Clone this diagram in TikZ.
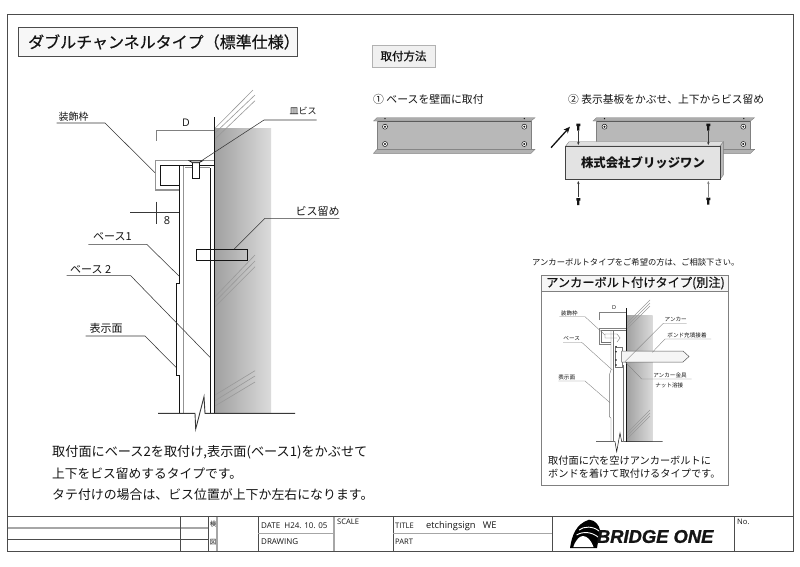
\documentclass[tikz,border=0pt]{standalone}
\usepackage{fontspec}
\setmainfont{Noto Sans CJK JP}
\newfontfamily\latinfont{Open Sans}
\newfontfamily\logofont[FakeBold=1.2]{Liberation Sans}
\newfontfamily\medfont[FakeBold=0.5]{Noto Sans CJK JP}
\usetikzlibrary{arrows.meta}
\definecolor{ink}{gray}{0.08}
\definecolor{frameink}{gray}{0.3}
\definecolor{soft}{gray}{0.65}
\definecolor{plate}{gray}{0.72}
\newcommand{\fs}[1]{\fontsize{#1}{#1}\selectfont}
\tikzset{
  x=1pt,y=-1pt,
  txt/.style={inner sep=0pt,text=ink,anchor=west},
  ctr/.style={inner sep=0pt,text=ink,anchor=center},
  frameline/.style={draw=frameink,line width=0.7pt},
  softline/.style={draw=soft,line width=1.1pt},
  leader/.style={draw=ink!85!white,line width=0.55pt},
  heavy/.style={draw=ink,line width=0.85pt},
  greyheavy/.style={draw=gray!85!white,line width=1.2pt},
  hatchline/.style={draw=gray!80!white,line width=0.6pt},
  wall/.style={left color=gray!75!white,right color=gray!28!white,draw=none},
  thin leader/.style={draw=ink!55!white,line width=0.35pt},
  mini/.style={draw=ink!60!white,line width=0.4pt},
  hole/.style={circle,draw=ink,fill=white,line width=0.5pt,minimum size=5pt,inner sep=0pt},
}
\newcommand{\bolt}[2]{\fill[ink] (#1-2,#2-3.5) rectangle (#1+2,#2-1) (#1-1.1,#2-1) rectangle (#1+1.1,#2+3.5);}
\newcommand{\bracket}[1]{%
  \begin{scope}[shift={(#1,0)}]
    \fill[gray!65!white,draw=gray] (-11.5,121)--(-8,117.7)--(150,117.7)--(146,121)--cycle;
    \fill[plate] (-8,121) rectangle (146,149.3);
    \draw[ink!70!white,line width=0.6pt] (-8,121)--(146,121) (-8,149.3)--(150,149.3);
    \draw[gray,line width=0.4pt] (-8,121)--(-8,149.3) (146,121)--(146,149.3);
    \fill[gray!60!white,draw=gray] (-8,149.3)--(150,149.3)--(146,153.3)--(-11.5,153.3)--cycle;
    \fill[ink] (0,118.6) circle (0.7) (139.3,118.6) circle (0.7);
  \end{scope}}
\begin{document}
\begin{tikzpicture}
\useasboundingbox (0,0) rectangle (800,566);
\fill[white] (0,0) rectangle (800,566);
% outer frame and title block
\draw[frameline] (7.5,14) rectangle (793,551);
\draw[frameline] (7.5,516.5)--(793,516.5);
\draw[frameline] (7.5,539)--(208,539);
\draw[softline] (7.5,528)--(208,528);
\draw[frameline] (180,516.5)--(180,551) (208,516.5)--(208,551) (258,516.5)--(258,551) (393,516.5)--(393,551) (552,516.5)--(552,551) (734,516.5)--(734,551);
\draw[softline] (217,516.5)--(217,551) (334,516.5)--(334,551) (258,533.7)--(334,533.7) (393,533.7)--(552,533.7);
\node[ctr,font=\fs{6.5}] (kenlabel) at (213,524) {検};
\node[ctr,font=\fs{6.5}] (zulabel) at (213,542) {図};
\node[txt,font=\latinfont\fs{8}] (datelabel) at (261,526) {DATE\ \ H24. 10. 05};
\node[txt,font=\latinfont\fs{8}] (drawinglabel) at (261,542) {DRAWING};
\node[txt,font=\latinfont\fs{7.6}] (scalelabel) at (337,522) {SCALE};
\node[txt,font=\latinfont\fs{7.6}] (titlelabel) at (395,526) {TITLE};
\node[txt,font=\latinfont\fs{9.3}] (titletext) at (426,526) {etchingsign\ \ \ WE};
\node[txt,font=\latinfont\fs{7.6}] (partlabel) at (395,542) {PART};
\node[txt,font=\latinfont\fs{7.6}] (nolabel) at (737,522) {No.};
% logo
\fill[black] (570,548) .. controls (572,535) and (576,524) .. (589,519.7) .. controls (595,520) and (599,525) .. (600,530) -- (597,548) -- cycle;
\fill[white] (573.3,547) .. controls (576,539) and (580,536) .. (583,536) .. controls (587,536) and (591,540) .. (593.5,547) -- cycle;
\draw[white,line width=0.9pt] (579,530) .. controls (584,526) and (593,526) .. (599,531);
\draw[white,line width=0.9pt] (576.5,535) .. controls (583,531) and (592,532) .. (598,537);
\node[txt,font=\logofont\bfseries\itshape\fs{18.4}] (logotext) at (596.7,536.5) {BRIDGE ONE};
% heading boxes
\draw[fill=gray!6!white,draw=frameink,line width=0.7pt] (18,27) rectangle (297,56);
\node[txt,font=\medfont\fs{16}] (heading) at (28,42) {ダブルチャンネルタイプ（標準仕様）};
\draw[fill=gray!12!white,draw=gray!60!white,line width=0.7pt] (372,45) rectangle (435,67);
\node[ctr,font=\medfont\fs{11.5}] (methodhead) at (403.5,56) {取付方法};
% main section
\shade[wall] (214,128) rectangle (271,413);
\foreach \a/\b/\c/\d in {215/128.3/253/90,215/133/255/95,215/139/255/100.7,215/296.7/255/255,215/301.7/255/261,215/306.7/255/266.7,215/395/255/370.7,215/400.7/255/376,215/406/255/382}
  \draw[hatchline] (\a,\b)--(\c,\d);
\draw[heavy] (214.3,117)--(214.3,413.3);
\draw[heavy] (210.3,168)--(210.3,413.3);
\draw[greyheavy] (185,167.7)--(210.3,167.7);
\draw[greyheavy] (183.3,166)--(183.3,413.3);
\draw[heavy] (179.3,165.3)--(179.3,276)--(179.3,283)--(176,283)--(176,375)--(179.3,375)--(179.3,413.3);
\draw[greyheavy] (214,160.7)--(155.7,160.7)--(155.7,190)--(179.3,190);
\draw[heavy] (214,165.3)--(160.3,165.3)--(160.3,185.7)--(179.3,185.7);
% countersunk screw
\draw[fill=white,draw=ink,line width=0.6pt] (192.3,162.7) rectangle (199.3,178.3);
\draw[fill=gray!30!white,draw=ink,line width=0.6pt] (189,160.7)--(202.7,160.7)--(199.3,162.7)--(192.3,162.7)--cycle;
% dimensions
\draw[draw=gray,line width=0.9pt] (156.3,140.7)--(156.3,130.7)--(214,130.7);
\node[ctr,font=\latinfont\fs{10.5}] (dlabel) at (186,122.5) {D};
\draw[leader] (156,201.7)--(156,224) (130,212.3)--(179.3,212.3);
\node[ctr,font=\latinfont\fs{11}] (eightlabel) at (167,220.7) {8};
% screw box
\draw[heavy] (196,249.3) rectangle (247.3,260.7);
% main labels and leaders
\node[ctr,font=\fs{10}] (frame) at (73.5,117) {装飾枠};
\draw[leader] (56.7,123)--(105,123)--(155,172.7);
\node[ctr,font=\fs{9}] (dishscrew) at (303,111) {皿ビス};
\draw[leader] (316.7,120)--(264,120)--(200,161.7);
\node[ctr,font=\fs{11}] (screwfix) at (317.5,211) {ビス留め};
\draw[leader] (339.3,218.3)--(265,218.3)--(234,249.3);
\node[ctr,font=\fs{11}] (base1) at (112.5,237) {ベース1};
\draw[leader] (88.3,244.3)--(146.7,244.3)--(179,276);
\node[ctr,font=\fs{11}] (base2) at (90.7,270) {ベース 2};
\draw[leader] (66.7,275.7)--(130.7,275.7)--(210,357.3);
\node[ctr,font=\fs{11}] (face) at (106,328) {表示面};
\draw[leader] (85.7,336)--(145,336)--(176,367.3);
% break line
\draw[draw=ink!85!white,line width=0.9pt] (158,413.3)--(195,413.3)--(195.7,429)--(204,396.7)--(205,413.3)--(295,413.3);
% body text
\node[txt,font=\fs{13.15}] (body1) at (52,452) {取付面にベース2を取付け,表示面(ベース1)をかぶせて};
\node[txt,font=\fs{12.75}] (body2) at (52,474) {上下をビス留めするタイプです。};
\node[txt,font=\fs{12.9}] (body3) at (52,495) {タテ付けの場合は、ビス位置が上下か左右になります。};
% step captions
\node[txt,font=\fs{10.85}] (step1) at (373,99) {① ベースを壁面に取付};
\node[txt,font=\fs{10.75}] (step2) at (568,99) {② 表示基板をかぶせ、上下からビス留め};
% left bracket
\bracket{385}
\foreach \p/\q in {385/126.7,524.3/126.7,385/144,524.3/144}{
  \node[hole] at (\p,\q) {};
  \fill[ink] (\p,\q) circle (1.1);}
% right bracket
\bracket{604.5}
\foreach \p/\q in {604.5/126.7,743.3/126.7,743.3/144}{
  \node[hole] at (\p,\q) {};
  \fill[ink] (\p,\q) circle (1.1);}
% sign
\fill[gray!55!white,draw=gray] (720,146)--(723.3,141.7)--(723.3,175)--(720,179.3)--cycle;
\fill[gray!25!white,draw=gray] (565.7,146)--(569,141.7)--(723.3,141.7)--(720,146)--cycle;
\draw[fill=gray!22!white,draw=ink!80!white,line width=0.6pt] (565.7,146) rectangle (720,179.3);
\node[ctr,font=\fs{12.4}\bfseries] (company) at (643,163) {株式会社ブリッジワン};
% screws and arrows
\bolt{578.3}{127}
\bolt{708.3}{127}
\bolt{578.3}{201.7}
\bolt{708.3}{201}
\draw[leader,-{Stealth[length=3pt,width=2.5pt]}] (578.3,131)--(578.3,145);
\draw[leader,-{Stealth[length=3pt,width=2.5pt]}] (708.3,131)--(708.3,145);
\draw[leader,-{Stealth[length=3pt,width=2.5pt]}] (578.3,197)--(578.3,181);
\draw[draw=gray,line width=0.7pt,-{Stealth[length=3pt,width=2.5pt]}] (708.3,197)--(708.3,181);
\draw[draw=ink,line width=1.3pt,-{Stealth[length=6.5pt,width=5.5pt]}] (551,147.7)--(570,126.7);
% anchor panel
\node[txt,font=\fs{8.3}] (anchornote) at (532,262) {アンカーボルトタイプをご希望の方は、ご相談下さい。};
\draw[fill=gray!7!white,draw=none] (541,275) rectangle (728,291.7);
\draw[draw=gray,line width=1pt] (541,275) rectangle (728,485) (541,291.7)--(728,291.7);
\node[ctr,font=\medfont\fs{12.2}] (anchorhead) at (635.5,283) {アンカーボルト付けタイプ(別注)};
\shade[wall] (626,315) rectangle (652.7,441.7);
\foreach \a/\b/\c/\d in {627/323/650/300,627/326/650/303,627/329/650/306,627/433/650/410,627/436/650/413,627/439/650/416}
  \draw[hatchline,line width=0.4pt] (\a,\b)--(\c,\d);
\draw[ink,line width=0.6pt] (626,308)--(626,441.7);
\draw[ink,line width=0.5pt] (596,441.7)--(615,441.7)--(616.7,451.7)--(620,433)--(621.7,441.7)--(662.7,441.7);
\draw[draw=gray,line width=0.5pt] (599.3,320)--(599.3,312.3)--(626,312.3);
\node[ctr,font=\latinfont\fs{5.5}] (dsmall) at (614,308) {D};
% small frame and base
\draw[draw=gray,line width=0.6pt] (626,328.3)--(599.3,328.3)--(599.3,344.3)--(611,344.3);
\draw[mini] (626,330.5)--(601,330.5)--(601,341.7)--(611,341.7);
\draw[mini] (605,334)--(617,334)--(620,338)--(617,342) (605,334)--(605,338)--(617,338);
\draw[mini] (611,330.5)--(611,370)--(609.3,375)--(609.3,416.7)--(611,418)--(611,441.7);
\draw[mini] (612.7,330.5)--(612.7,441.7);
\draw[mini] (623.5,365)--(623.5,441.7);
% anchor bolt
\draw[mini] (615,346.7) rectangle (621.7,366.7);
\foreach \q in {346.7,351.7,360,365}
  \fill[ink] (616,\q) circle (0.8);
\draw[fill=gray!8!white,draw=gray!70!black,line width=0.5pt] (621.7,351)--(683,351)--(689,356.5)--(683,362)--(621.7,362)--cycle;
% small labels
\node[ctr,font=\fs{5.6}] (frames) at (569.3,313.7) {装飾枠};
\draw[thin leader] (559.3,316.7)--(585,316.7)--(605,335);
\node[ctr,font=\fs{5.6}] (bases) at (571.7,339) {ベース};
\draw[thin leader] (563,342.3)--(581.7,342.3)--(612.3,370);
\node[ctr,font=\fs{5.6}] (faces) at (566.7,377.3) {表示面};
\draw[thin leader] (558.3,381)--(585,381)--(610,402.7);
\node[ctr,font=\fs{5.6}] (anchors) at (675.7,319) {アンカー};
\draw[thin leader] (686.7,323.3)--(663.3,323.3)--(625,361.7);
\node[ctr,font=\fs{5.6}] (bonds) at (687,335.3) {ボンド充填接着};
\draw[thin leader] (711,339)--(665,339)--(652.3,352.3);
\node[ctr,font=\fs{5.6}] (fittings) at (670,375) {アンカー金具};
\draw[thin leader] (691.7,379)--(641.7,379)--(625,361.7);
\node[ctr,font=\fs{5.6}] (nuts) at (669.3,385) {ナット溶接};
\node[txt,font=\fs{10.2}] (anchorbody1) at (548,461) {取付面に穴を空けアンカーボルトに};
\node[txt,font=\fs{10.2}] (anchorbody2) at (548,474) {ボンドを着けて取付けるタイプです。};
\end{tikzpicture}
\end{document}
